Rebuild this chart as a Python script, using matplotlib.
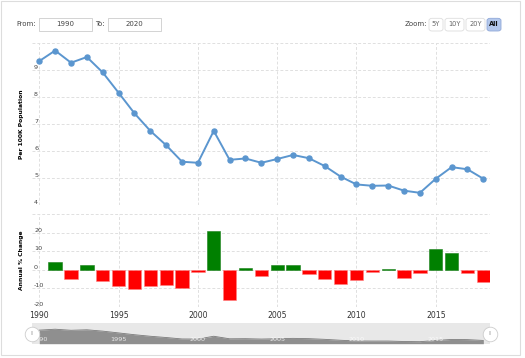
import matplotlib.pyplot as plt
from matplotlib.patches import FancyBboxPatch, Rectangle
import numpy as np

W, H = 525, 358

years = list(range(1990, 2019))
rate = [9.32, 9.71, 9.26, 9.47, 8.90, 8.15, 7.39, 6.74, 6.21, 5.60,
        5.56, 6.74, 5.67, 5.72, 5.56, 5.70, 5.85, 5.73, 5.44, 5.05,
        4.76, 4.71, 4.72, 4.53, 4.45, 4.97, 5.40, 5.32, 4.97]

chg_years = list(range(1991, 2019))
chg = [4.4, -4.9, 2.4, -6.2, -8.5, -10.5, -8.5, -8.4, -9.8, -0.9,
       21.1, -16.0, 0.9, -3.5, 2.7, 2.4, -2.4, -5.1, -7.5, -5.5,
       -1.3, 0.7, -4.5, -1.8, 11.5, 9.1, -1.8, -6.7]

xticks = [1990, 1995, 2000, 2005, 2010, 2015]
top_ticks = [4, 5, 6, 7, 8, 9, 10]
bot_ticks = [-20, -10, 0, 10, 20, 30]

LINE = '#5b96cf'
GRID = '#e0e0e0'
XLIM = (1989.54, 2018.42)


def box(l, t, r, b):
    # pixel box -> figure fraction [left, bottom, width, height]
    return [l / W, 1 - b / H, (r - l) / W, (b - t) / H]


fig = plt.figure(figsize=(W / 100, H / 100), dpi=100)
fig.patch.set_facecolor('white')


def style(ax, ticks, ylim):
    ax.set_xlim(*XLIM)
    ax.set_ylim(*ylim)
    ax.set_xticks(xticks)
    ax.set_yticks(ticks)
    ax.grid(True, color=GRID, linestyle=(0, (3, 2)), linewidth=0.7)
    ax.set_axisbelow(True)
    for s in ax.spines.values():
        s.set_visible(False)
    ax.tick_params(length=0)
    labels = [str(t) if t != ticks[-1] else '' for t in ticks]
    ax.set_yticklabels(labels, fontsize=4.6, color='#444')
    for lab in ax.get_yticklabels():
        lab.set_ha('left')
        lab.set_va('bottom')
    ax.tick_params(axis='y', pad=-1.5)


# price panel
ax1 = fig.add_axes(box(32, 42.7, 490, 205))
style(ax1, top_ticks, (4, 10))
ax1.set_xticklabels([])
ax1.plot(years, rate, color=LINE, lw=1.4, marker='o', ms=3.6, zorder=3)
ax1.set_ylabel('Per 100K Population', fontsize=4.3, fontweight='bold', labelpad=6)

# change panel
ax2 = fig.add_axes(box(32, 214.3, 490, 307))
style(ax2, bot_ticks, (-20, 30))
colors = ['#008000' if c >= 0 else '#ff0000' for c in chg]
edges = ['#1a801a' if c >= 0 else '#ff8080' for c in chg]
ax2.bar(chg_years, chg, width=0.84, color=colors, edgecolor=edges, linewidth=0.4, zorder=3)
ax2.set_xticklabels([str(x) for x in xticks], fontsize=5.6, color='#333')
ax2.tick_params(axis='x', pad=3)
ax2.set_ylabel('Annual % Change', fontsize=4.3, fontweight='bold', labelpad=6)

# navigator
ax3 = fig.add_axes(box(32, 323.3, 490, 343.7))
ax3.set_facecolor('#e8e8e8')
ax3.set_xlim(*XLIM)
ax3.set_ylim(3.6, 12.2)
ax3.fill_between(years, rate, 3.6, color='#8f8f8f', lw=0)
ax3.plot(years, rate, color='#7a7a7a', lw=0.6)
ax3.set_xticks([])
ax3.set_yticks([])
for s in ax3.spines.values():
    s.set_visible(False)
for x in xticks:
    ax3.text(x, 0.22, str(x), transform=ax3.get_xaxis_transform(), ha='center',
             va='center', fontsize=4.6, color='white', alpha=0.8)
for xa in (0, 1):
    ax3.plot([xa], [0.5], transform=ax3.transAxes, marker='o', ms=10.5,
             mfc='white', mec='#cccccc', mew=0.6, clip_on=False, zorder=10)
    ax3.text(xa, 0.5, 'II', transform=ax3.transAxes, ha='center', va='center',
             fontsize=3.5, color='#aaaaaa', zorder=11)

# range selector
fig.text(16 / W, 1 - 24.3 / H, 'From:', fontsize=5, color='#444', va='center')
fig.text(95 / W, 1 - 24.3 / H, 'To:', fontsize=5, color='#444', va='center')
for l, r, txt in [(39, 92, '1990'), (108, 161, '2020')]:
    fig.add_artist(Rectangle((l / W, 1 - 31 / H), (r - l) / W, 13.3 / H,
                             transform=fig.transFigure, fc='white', ec='#cccccc', lw=0.6))
    fig.text((l + r) / 2 / W, 1 - 24.3 / H, txt, fontsize=5, color='#444',
             ha='center', va='center')

fig.text(427 / W, 1 - 24.5 / H, 'Zoom:', fontsize=5, color='#444', ha='right', va='center')
buttons = [(429, 443, '5Y'), (445, 464, '10Y'), (466, 485, '20Y'), (487, 501, 'All')]
for l, r, txt in buttons:
    sel = txt == 'All'
    fig.add_artist(FancyBboxPatch((l / W, 1 - 31 / H), (r - l) / W, 12.7 / H,
                                  boxstyle='round,pad=0,rounding_size=0.006',
                                  transform=fig.transFigure,
                                  fc='#b4c8ec' if sel else 'white',
                                  ec='#8fa8d8' if sel else '#dddddd', lw=0.6))
    fig.text((l + r) / 2 / W, 1 - 24.5 / H, txt, fontsize=4.8,
             color='#111' if sel else '#666', ha='center', va='center',
             fontweight='bold' if sel else 'normal')

# outer frame
fig.add_artist(Rectangle((1 / W, 1 - 355 / H), 519 / W, 354 / H,
                         transform=fig.transFigure, fill=False, ec='#dddddd', lw=0.8))

fig.savefig('out.png', dpi=100)
